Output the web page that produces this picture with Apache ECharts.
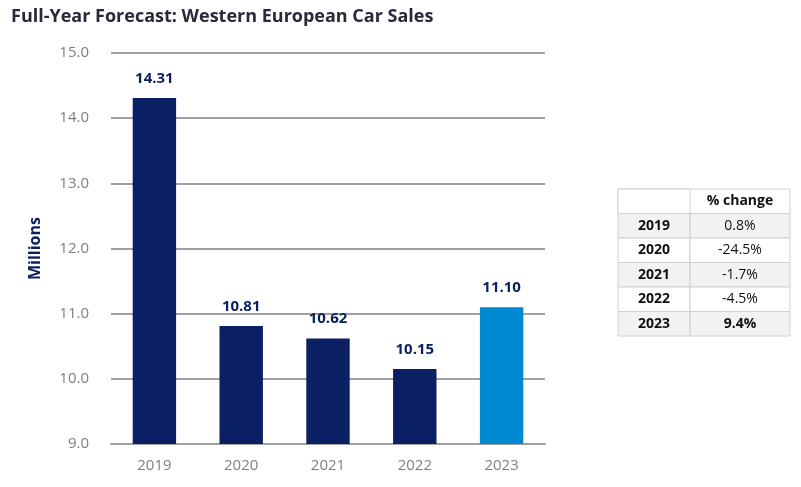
<!DOCTYPE html>
<html><head><meta charset="utf-8">
<script src="https://cdn.jsdelivr.net/npm/echarts@6/dist/echarts.min.js"></script>
<style>html,body{margin:0;padding:0;background:#fff}#c{width:801px;height:487px}</style>
</head><body><div id="c"></div>
<script>
var categories = ['2019','2020','2021','2022','2023'];
var sales = [14.31, 10.81, 10.62, 10.15, 11.10];
var pctChange = ['0.8%','-24.5%','-1.7%','-4.5%','9.4%'];
var yTicks = [9,10,11,12,13,14,15];

var chart = echarts.init(document.getElementById('c'));
var F = '"Open Sans", "Noto Sans", sans-serif';

// table graphic
var tx = 618, ty = 189, c1 = 72, c2 = 100, rh = 24.5;
var g = [];
g.push({type:'rect', shape:{x:tx,y:ty,width:c1+c2,height:rh}, style:{fill:'#fff',stroke:'#d0d0d0',lineWidth:1}});
g.push({type:'rect', shape:{x:tx,y:ty,width:c1,height:rh}, style:{fill:'#fff',stroke:'#d0d0d0',lineWidth:1}});
g.push({type:'text', x:tx+c1+c2/2, y:ty+rh/2, style:{text:'% change', font:'bold 14px '+F, fill:'#111', align:'center', verticalAlign:'middle'}});
categories.forEach(function(cat,i){
  var y = ty + rh*(i+1);
  var fill = (i%2===0) ? '#f2f2f2' : '#ffffff';
  g.push({type:'rect', shape:{x:tx,y:y,width:c1,height:rh}, style:{fill:fill,stroke:'#d0d0d0',lineWidth:1}});
  g.push({type:'rect', shape:{x:tx+c1,y:y,width:c2,height:rh}, style:{fill:fill,stroke:'#d0d0d0',lineWidth:1}});
  g.push({type:'text', x:tx+c1/2, y:y+rh/2, style:{text:cat, font:'bold 14px '+F, fill:'#111', align:'center', verticalAlign:'middle'}});
  g.push({type:'text', x:tx+c1+c2/2, y:y+rh/2, style:{text:pctChange[i], font:(i===4?'bold ':'')+'14px '+F, fill:'#111', align:'center', verticalAlign:'middle'}});
});

chart.setOption({
  animation:false,
  title:{text:'Full-Year Forecast: Western European Car Sales', left:6, top:3,
    textStyle:{fontFamily:F, fontSize:18, fontWeight:'bold', color:'#2b2838'}},
  grid:{left:111, right:256, top:53, bottom:43},
  xAxis:{type:'category', data:categories,
    axisLine:{lineStyle:{color:'#a0a0a0', width:2}}, axisTick:{show:false},
    axisLabel:{color:'#7f7f7f', fontSize:15, fontFamily:F, margin:14}},
  yAxis:{type:'value', min:9, max:15, interval:1,
    name:'Millions', nameLocation:'middle', nameGap:68, nameRotate:90,
    nameTextStyle:{color:'#0a1f64', fontWeight:'bold', fontSize:16, fontFamily:F},
    axisLine:{show:false}, axisTick:{show:false},
    splitLine:{lineStyle:{color:'#a0a0a0', width:2}},
    axisLabel:{color:'#7f7f7f', fontSize:15, fontFamily:F, margin:22,
      formatter:function(v){return v.toFixed(1);}}},
  series:[{type:'bar', barWidth:'50%',
    data:sales.map(function(v,i){return {value:v, itemStyle:{color: i===4?'#0089d1':'#0a1f64'}};}),
    label:{show:true, position:'top', distance:12, color:'#0a1f64', fontWeight:'bold', fontSize:15, fontFamily:F,
      formatter:function(p){return p.value.toFixed(2);}}}],
  graphic:g
});
</script></body></html>
